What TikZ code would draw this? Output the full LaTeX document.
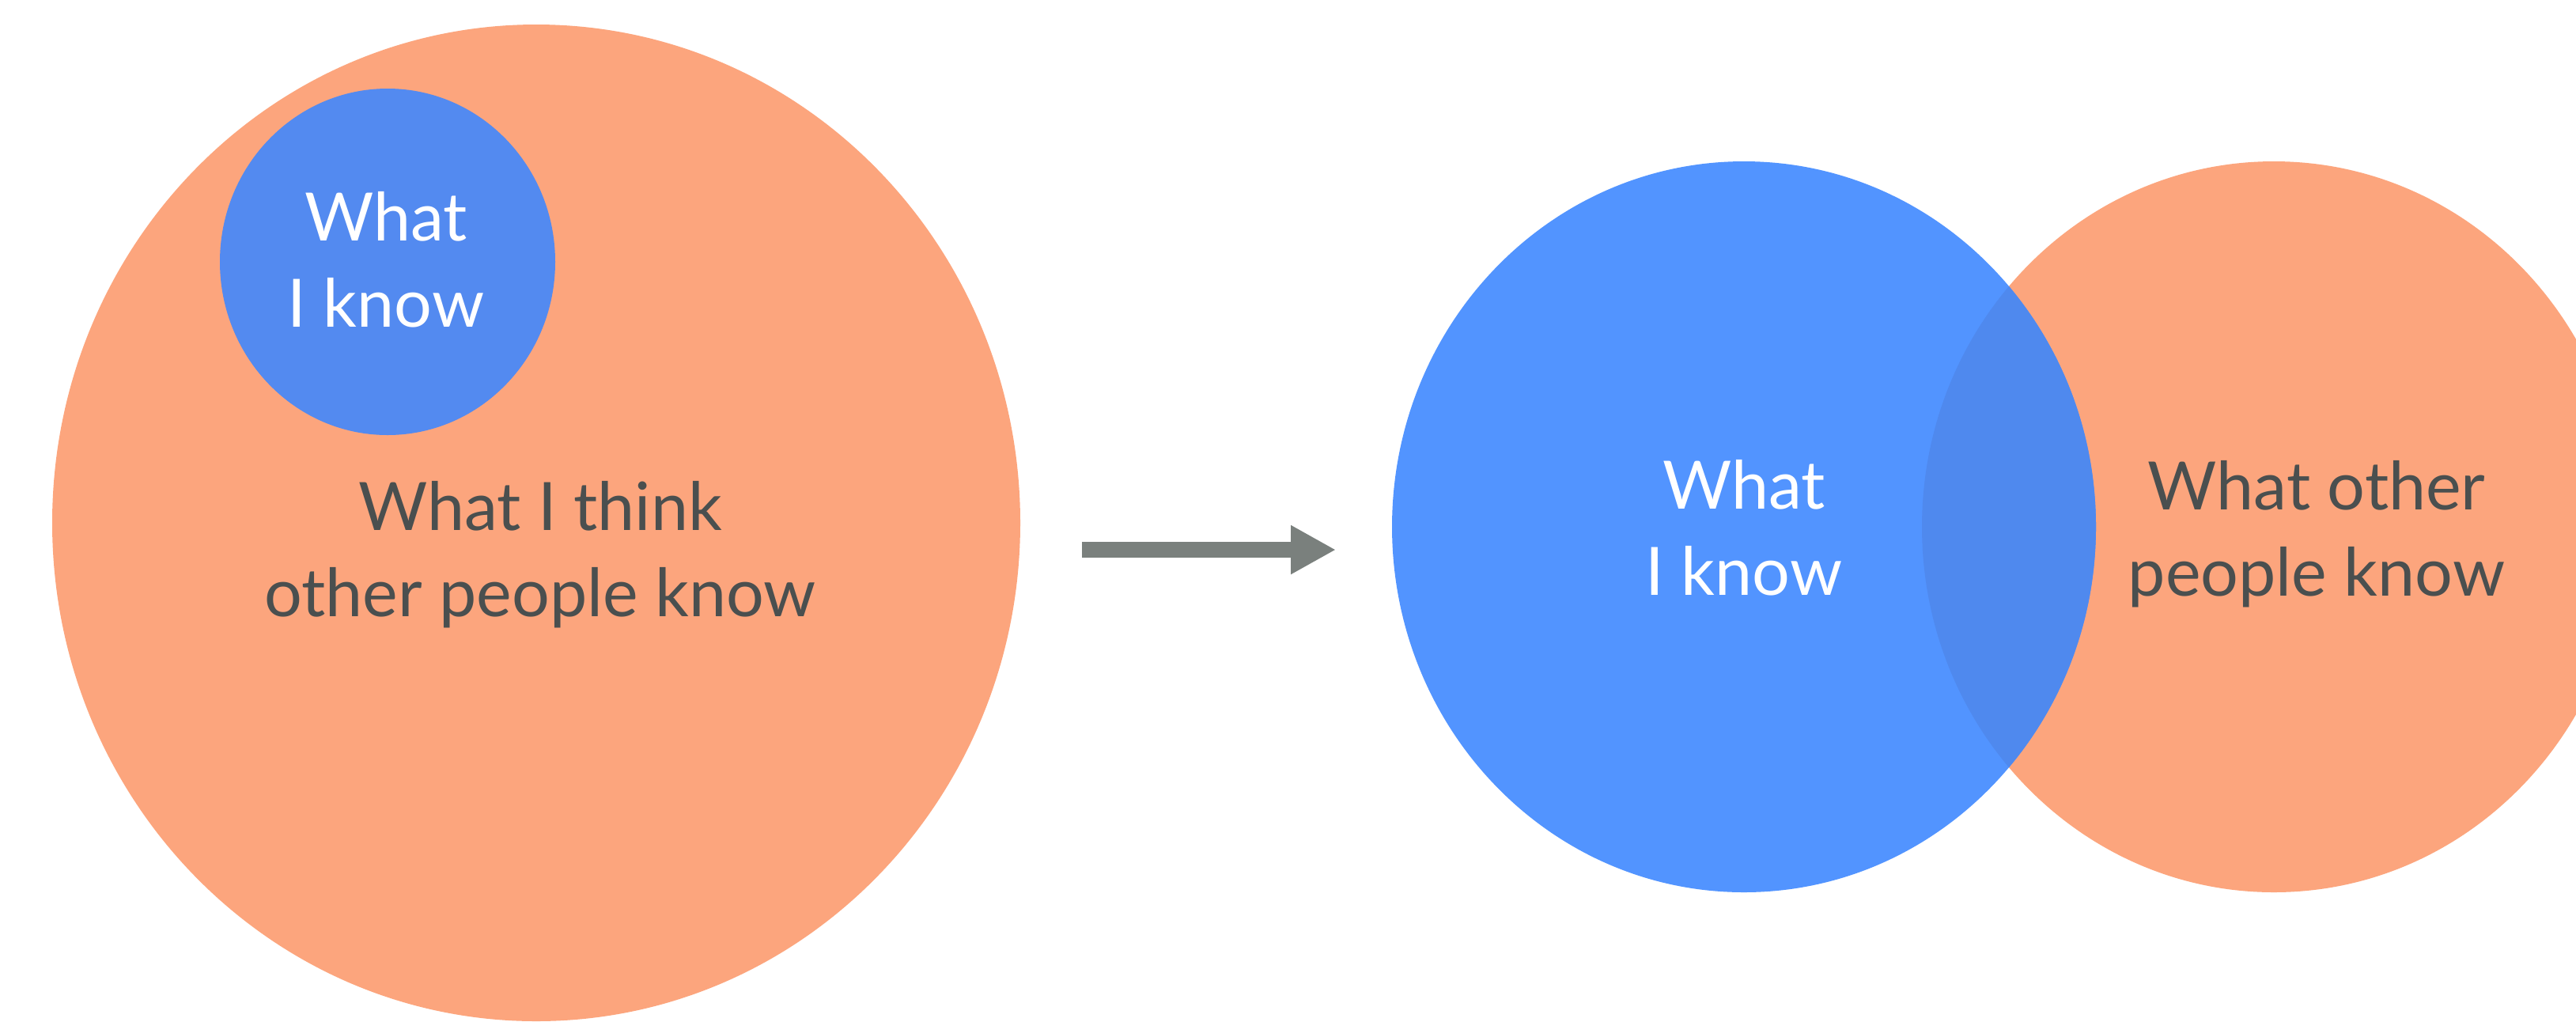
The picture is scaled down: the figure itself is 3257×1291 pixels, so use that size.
\documentclass[tikz,border=0pt]{standalone}
\usepackage{fontspec}
\setmainfont{Lato}
\definecolor{peach}{RGB}{252,165,125}
\definecolor{knowblue}{RGB}{83,138,240}
\definecolor{vennblue}{RGB}{82,148,255}
\definecolor{overlapblue}{RGB}{79,137,238}
\definecolor{labelgray}{RGB}{74,79,79}
\definecolor{arrowgray}{RGB}{122,128,125}
\usetikzlibrary{shapes.geometric, arrows.meta}

\begin{document}
\begin{tikzpicture}[x=0.1mm, y=-0.1mm,
    every node/.style={font=\fontsize{24}{31}\selectfont, align=center, inner sep=0pt},
    blob/.style={ellipse, inner sep=0pt},
    dark/.style={text=labelgray},
    light/.style={text=white}
]
\clip (0,0) rectangle (3257,1291);
\fill[white] (0,0) rectangle (3257,1291);
% before
\node[blob, fill=peach, minimum width=122.4mm, minimum height=126mm] (think) at (678,661) {};
\node[blob, fill=knowblue, minimum width=42.4mm, minimum height=43.8mm] (mine) at (490,331) {};
\node[light] (minelbl) at (488,328) {What\\I know};
\node[dark] (thinklbl) at (683,701) {What I think\\other people know};
% arrow
\coordinate (tail) at (1368,695);
\coordinate (head) at (1689,695);
\draw[arrowgray, line width=2mm, -{Triangle[length=5.7mm, width=5.8mm]}] (tail) -- (head);
% after
\node[blob, fill=peach, minimum width=89mm, minimum height=92.4mm] (others) at (2875,666) {};
\node[blob, fill=vennblue, minimum width=89mm, minimum height=92.4mm] (known) at (2205,666) {};
\begin{scope}
  \clip (known.center) ellipse [x radius=44.5mm, y radius=46.2mm];
  \fill[overlapblue] (others.center) ellipse [x radius=44.5mm, y radius=46.2mm];
\end{scope}
\node[light] (knownlbl) at (2205,667) {What\\I know};
\node[dark] (otherslbl) at (2929,675) {What other\\people know};
\end{tikzpicture}
\end{document}
